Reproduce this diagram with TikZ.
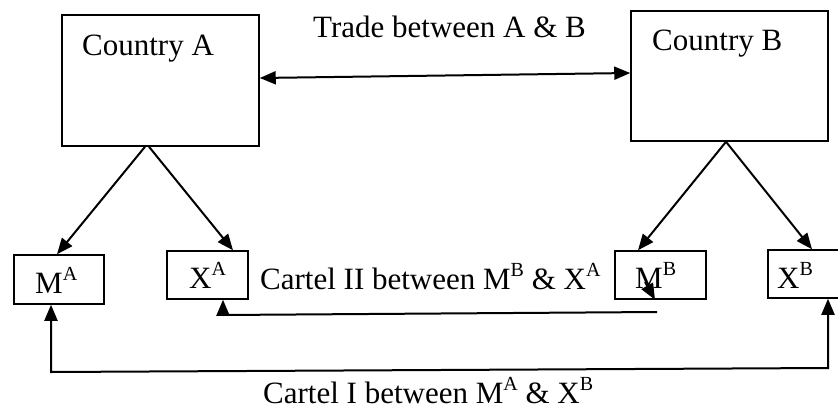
\documentclass[tikz,border=0pt]{standalone}
\usepackage{fontspec}
\setmainfont{Liberation Serif}
\usetikzlibrary{arrows.meta}
\newcommand\supx[1]{\raisebox{13pt}{\fontsize{20}{20}\selectfont #1}}
\begin{document}
\begin{tikzpicture}[x=1pt,y=-1pt,
  box/.style={draw,line width=1.5pt,inner sep=0pt,rectangle},
  lbl/.style={inner sep=0pt,anchor=base west,font=\fontsize{31}{36}\selectfont},
  arr/.style={line width=2pt,-{Triangle[length=16pt,width=13pt]}},
  darr/.style={line width=2pt,{Triangle[length=16pt,width=13pt]}-{Triangle[length=16pt,width=13pt]}}]
\useasboundingbox (0,0) rectangle (838,410);
% boxes
\node[box,minimum width=197pt,minimum height=131pt] (ca) at (160.5,80.5) {};
\node[box,minimum width=197pt,minimum height=130pt] (cb) at (729.5,76) {};
\node[box,minimum width=90pt,minimum height=49pt] (ma) at (59,279.5) {};
\node[box,minimum width=81pt,minimum height=48pt] (xa) at (207.5,275) {};
\node[box,minimum width=91pt,minimum height=48pt] (mb) at (660.5,275) {};
\node[box,minimum width=74pt,minimum height=48pt] (xb) at (805,274) {};
% labels
\node[lbl] (tca) at (82,55) {Country A};
\node[lbl] (tcb) at (652,50) {Country B};
\node[lbl] (ttr) at (313,37) {Trade between A \& B};
\node[lbl] (tma) at (35,293) {M\supx{A}};
\node[lbl] (txa) at (189,288) {X\supx{A}};
\node[lbl] (tmb) at (635,288) {M\supx{B}};
\node[lbl] (txb) at (777,288) {X\supx{B}};
\node[lbl] (tc2) at (260,289) {Cartel II between M\supx{B} \& X\supx{A}};
\node[lbl] (tc1) at (263,403) {Cartel I between M\supx{A} \& X\supx{B}};
% connectors
\draw[darr] ([yshift=2.5pt]ca.east) -- ([yshift=3pt]cb.west);
\draw[arr] ([xshift=-15.5pt]ca.south) -- ([xshift=-2pt]ma.north);
\draw[arr] ([xshift=-11.5pt]ca.south) -- ([xshift=25.5pt]xa.north);
\draw[arr] ([xshift=-3.5pt]cb.south) -- ([xshift=-22.5pt]mb.north);
\draw[arr] ([xshift=-3.5pt]cb.south) -- ([xshift=7pt]xb.north);
\coordinate (c2s) at (657,312);
\coordinate (c2c) at (223,315);
\draw[arr] (c2s) -- (c2c) -- (c2c |- xa.south);
\coordinate (mbt) at (645,282);
\draw[arr] (mbt) -- ([xshift=-5.5pt]mb.south);
\coordinate (c1a) at (51,372);
\coordinate (c1b) at (828,368);
\draw[darr] (ma.south -| c1a) -- (c1a) -- (c1b) -- (xb.south -| c1b);
\end{tikzpicture}
\end{document}
